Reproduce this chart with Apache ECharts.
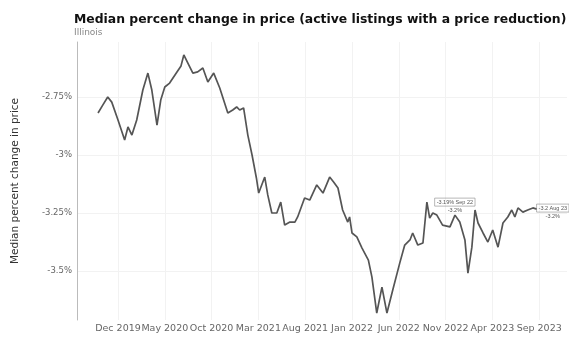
<!DOCTYPE html>
<html>
<head>
<meta charset="utf-8">
<script src="https://cdn.jsdelivr.net/npm/echarts@6/dist/echarts.min.js"></script>
<style>
  html, body { margin: 0; padding: 0; background: #fff; }
  #chart { width: 569px; height: 339px; }
</style>
</head>
<body>
<div id="chart"></div>
<script>
// weekly-ish readings
var dates = [
  '2019-09-27','2019-10-13','2019-10-29','2019-11-11','2019-12-01','2019-12-23',
  '2020-01-03','2020-01-16','2020-02-01','2020-02-20','2020-03-07','2020-03-20',
  '2020-04-06','2020-04-18','2020-05-01','2020-05-17','2020-06-10','2020-06-23',
  '2020-07-02','2020-07-15','2020-08-01','2020-08-17','2020-09-03','2020-09-19',
  '2020-10-08','2020-10-28','2020-11-23','2020-12-09','2020-12-22','2021-01-01',
  '2021-01-14','2021-01-28','2021-02-10','2021-02-23','2021-03-02','2021-03-22',
  '2021-04-01','2021-04-14','2021-04-30','2021-05-13','2021-05-26','2021-06-12',
  '2021-06-28','2021-07-07','2021-07-30','2021-08-16','2021-09-08','2021-09-28',
  '2021-10-20','2021-11-02','2021-11-16','2021-12-01','2021-12-18','2021-12-24',
  '2022-01-01','2022-01-17','2022-02-03','2022-02-22','2022-03-05','2022-03-21',
  '2022-04-07','2022-04-23','2022-05-12','2022-06-04','2022-06-20','2022-07-07',
  '2022-07-16','2022-08-02','2022-08-19','2022-09-01','2022-09-10','2022-09-20',
  '2022-10-03','2022-10-22','2022-11-15','2022-12-01','2022-12-17','2023-01-03',
  '2023-01-13','2023-01-26','2023-02-05','2023-02-14','2023-03-01','2023-03-17',
  '2023-04-02','2023-04-19','2023-05-05','2023-05-21','2023-06-03','2023-06-13',
  '2023-06-23','2023-07-09','2023-07-25','2023-08-11','2023-08-24'
];
var pctChange = [
  -2.819,-2.784,-2.750,-2.772,-2.849,-2.935,
  -2.879,-2.914,-2.849,-2.720,-2.647,-2.720,
  -2.871,-2.763,-2.707,-2.690,-2.642,-2.616,
  -2.569,-2.603,-2.647,-2.642,-2.625,-2.685,
  -2.647,-2.711,-2.819,-2.806,-2.793,-2.806,
  -2.797,-2.914,-3.000,-3.099,-3.164,-3.095,
  -3.172,-3.250,-3.250,-3.203,-3.302,-3.289,
  -3.289,-3.267,-3.185,-3.194,-3.129,-3.164,
  -3.095,-3.116,-3.142,-3.237,-3.289,-3.267,
  -3.336,-3.353,-3.401,-3.453,-3.526,-3.681,
  -3.569,-3.681,-3.582,-3.466,-3.388,-3.366,
  -3.336,-3.388,-3.379,-3.203,-3.272,-3.250,
  -3.259,-3.302,-3.310,-3.259,-3.289,-3.366,
  -3.509,-3.397,-3.237,-3.293,-3.336,-3.375,
  -3.323,-3.397,-3.293,-3.267,-3.237,-3.267,
  -3.228,-3.246,-3.237,-3.228,-3.233
];
var xTickDates = ['2019-12-01','2020-05-01','2020-10-01','2021-03-01','2021-08-01',
                  '2022-01-01','2022-06-01','2022-11-01','2023-04-01','2023-09-01'];
var yTicks = [-3.5, -3.25, -3, -2.75];
var noteTop = ['-3.19% Sep 22', '-3.2 Aug 23'];
var noteBottom = ['-3.2%', '-3.2%'];

var monthNames = ['Jan','Feb','Mar','Apr','May','Jun','Jul','Aug','Sep','Oct','Nov','Dec'];

// months since Jan 2019, fractional
function toMonth(s) {
  var p = s.split('-').map(Number);
  var dim = new Date(p[0], p[1], 0).getDate();
  return (p[0] - 2019) * 12 + (p[1] - 1) + (p[2] - 1) / dim;
}
function monthLabel(m) {
  var k = Math.round(m);
  return monthNames[k % 12] + ' ' + (2019 + Math.floor(k / 12));
}

var points = dates.map(function (d, i) { return [toMonth(d), pctChange[i]]; });
var xTicks = xTickDates.map(toMonth);

var chart = echarts.init(document.getElementById('chart'));
var option = {
  animation: false,
  title: {
    text: 'Median percent change in price (active listings with a price reduction)',
    subtext: 'Illinois',
    left: 69,
    top: 9,
    itemGap: 2,
    textStyle: { fontFamily: 'DejaVu Sans', fontSize: 12.4, fontWeight: 'bold', color: '#111' },
    subtextStyle: { fontFamily: 'DejaVu Sans', fontSize: 9, color: '#888' }
  },
  grid: { left: 77, right: 2, top: 42, bottom: 19 },
  xAxis: {
    type: 'value',
    min: 6.62,
    max: 58.97,
    axisLine: { show: false },
    axisTick: { show: false, customValues: xTicks },
    axisLabel: {
      customValues: xTicks,
      formatter: monthLabel,
      fontFamily: 'DejaVu Sans',
      fontSize: 9.5,
      color: '#666',
      margin: 4,
      hideOverlap: false
    },
    splitLine: { show: true, lineStyle: { color: '#f2f2f2', width: 1 } }
  },
  yAxis: {
    type: 'value',
    min: -3.711,
    max: -2.513,
    name: 'Median percent change in price',
    nameLocation: 'middle',
    nameGap: 56,
    nameTextStyle: { fontFamily: 'DejaVu Sans', fontSize: 10.5, color: '#333' },
    axisLine: { show: true, lineStyle: { color: '#bbb' } },
    axisTick: { show: false, customValues: yTicks },
    axisLabel: {
      customValues: yTicks,
      formatter: function (v) { return v + '%'; },
      fontFamily: 'DejaVu Sans',
      fontSize: 8.5,
      color: '#666',
      margin: 5
    },
    splitLine: { show: true, lineStyle: { color: '#f2f2f2', width: 1 } }
  },
  series: [{
    type: 'line',
    data: points,
    showSymbol: false,
    smooth: false,
    lineStyle: { color: '#555', width: 1.7 },
    markPoint: {
      symbol: 'circle',
      symbolSize: 1,
      itemStyle: { color: 'rgba(0,0,0,0)' },
      data: [
        { coord: points[72], name: 'a',
          label: { formatter: '{t|' + noteTop[0] + '}\n{b|' + noteBottom[0] + '}', offset: [18, -9] } },
        { coord: points[points.length - 1], name: 'b',
          label: { formatter: '{t|' + noteTop[1] + '}\n{b|' + noteBottom[1] + '}', offset: [16, 3] } }
      ],
      label: {
        show: true,
        position: 'inside',
        lineHeight: 8,
        rich: {
          t: { fontSize: 5.5, color: '#555', borderColor: '#888', borderWidth: 0.6, padding: [1, 2] },
          b: { fontSize: 5.5, color: '#555', padding: [1, 2] }
        }
      }
    }
  }]
};
chart.setOption(option);
</script>
</body>
</html>
